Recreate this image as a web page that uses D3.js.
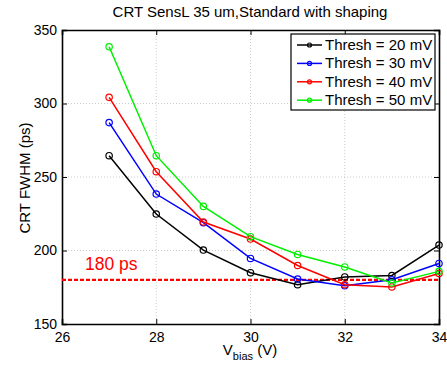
<!DOCTYPE html>
<html><head><meta charset="utf-8">
<script src="https://cdn.jsdelivr.net/npm/d3@7"></script>
<style>body{margin:0;background:#fff;} svg{display:block;font-family:"Liberation Sans",Arial,sans-serif;}</style>
</head><body>
<svg id="c" width="447" height="366"></svg>
<script>
const vbias = [27, 28, 29, 30, 31, 32, 33, 34];
const thresh20 = [264.5, 224.8, 200.3, 184.9, 176.7, 182.0, 183.0, 203.7];
const thresh30 = [287.0, 238.4, 218.9, 194.6, 180.6, 176.0, 180.1, 191.2];
const thresh40 = [304.2, 253.6, 219.4, 207.8, 189.8, 176.7, 175.2, 184.4];
const thresh50 = [338.6, 264.5, 230.0, 209.4, 197.3, 188.8, 177.9, 185.8];
const seriesNames = ["Thresh = 20 mV", "Thresh = 30 mV", "Thresh = 40 mV", "Thresh = 50 mV"];
const seriesColors = ["#000000", "#0000ff", "#ff0000", "#00f000"];
const xTicks = [26, 28, 30, 32, 34];
const yTicks = [150, 200, 250, 300, 350];
const refLine = 180;
const refLabel = "180 ps";
const title = "CRT SensL 35 um,Standard with shaping";

const allSeries = [thresh20, thresh30, thresh40, thresh50];
const svg = d3.select("#c");
const L = 62, R = 439, T = 30, B = 324;
const x = d3.scaleLinear().domain([26, 34]).range([L, R]);
const y = d3.scaleLinear().domain([150, 350]).range([B, T]);

// grid
const grid = svg.append("g");
grid.selectAll(".gx").data(xTicks.slice(1, -1)).enter().append("line")
  .attr("x1", d => x(d)).attr("x2", d => x(d)).attr("y1", T).attr("y2", B)
  .attr("stroke", "#aaa").attr("stroke-width", 0.6).attr("stroke-dasharray", "1,2");
grid.selectAll(".gy").data(yTicks.slice(1, -1)).enter().append("line")
  .attr("y1", d => y(d)).attr("y2", d => y(d)).attr("x1", L).attr("x2", R)
  .attr("stroke", "#aaa").attr("stroke-width", 0.6).attr("stroke-dasharray", "1,2");

// axes
const ax = svg.append("g").attr("transform", `translate(0,${B})`)
  .call(d3.axisBottom(x).tickValues(xTicks).tickSize(-5).tickPadding(8));
const ay = svg.append("g").attr("transform", `translate(${L},0)`)
  .call(d3.axisLeft(y).tickValues(yTicks).tickSize(-5).tickPadding(5));
const at = svg.append("g").attr("transform", `translate(0,${T})`)
  .call(d3.axisTop(x).tickValues(xTicks).tickSize(-5).tickFormat(""));
const ar = svg.append("g").attr("transform", `translate(${R},0)`)
  .call(d3.axisRight(y).tickValues(yTicks).tickSize(-5).tickFormat(""));
[ax, ay, at, ar].forEach(g => {
  g.select(".domain").attr("stroke", "#000").attr("stroke-width", 1.6);
  g.selectAll(".tick line").attr("stroke", "#000").attr("stroke-width", 1);
  g.selectAll("text").attr("font-size", 14).attr("fill", "#000").attr("font-family", "Liberation Sans, Arial, sans-serif");
});

// reference line
svg.append("line").attr("x1", L).attr("x2", R).attr("y1", y(refLine)).attr("y2", y(refLine))
  .attr("stroke", "#ff0000").attr("stroke-width", 2.2).attr("stroke-dasharray", "4,2");
svg.append("text").attr("x", 85).attr("y", y(refLine) - 10).text(refLabel)
  .attr("fill", "#ff0000").attr("font-size", 17.5);

// series
const line = d3.line().x((d, i) => x(vbias[i])).y(d => y(d));
allSeries.forEach((s, k) => {
  svg.append("path").datum(s).attr("d", line).attr("fill", "none")
    .attr("stroke", seriesColors[k]).attr("stroke-width", 1.5);
  svg.selectAll(null).data(s).enter().append("circle")
    .attr("cx", (d, i) => x(vbias[i])).attr("cy", d => y(d)).attr("r", 3.2)
    .attr("fill", "none").attr("stroke", seriesColors[k]).attr("stroke-width", 1.2);
});

// legend
const lg = svg.append("g");
lg.append("rect").attr("x", 291).attr("y", 34).attr("width", 144).attr("height", 76)
  .attr("fill", "#fff").attr("stroke", "#000").attr("stroke-width", 1.2);
seriesNames.forEach((n, k) => {
  const yy = 45 + k * 18.4;
  lg.append("line").attr("x1", 297).attr("x2", 322).attr("y1", yy).attr("y2", yy)
    .attr("stroke", seriesColors[k]).attr("stroke-width", 1.5);
  lg.append("circle").attr("cx", 309.5).attr("cy", yy).attr("r", 2)
    .attr("fill", "none").attr("stroke", seriesColors[k]).attr("stroke-width", 1.2);
  lg.append("text").attr("x", 325).attr("y", yy + 5).text(n).attr("font-size", 15).attr("fill", "#000");
});

// title
svg.append("text").attr("x", 250).attr("y", 17).attr("text-anchor", "middle")
  .attr("font-size", 15).text(title);

// y label
svg.append("text").attr("transform", "translate(30,178) rotate(-90)").attr("text-anchor", "middle")
  .attr("font-size", 15).text("CRT FWHM (ps)");

// x label
const xl = svg.append("text").attr("x", 250).attr("y", 355).attr("text-anchor", "middle").attr("font-size", 15);
xl.append("tspan").text("V");
xl.append("tspan").attr("font-size", 11).attr("dy", 5).text("bias");
xl.append("tspan").attr("dy", -5).text(" (V)");
</script>
</body></html>
